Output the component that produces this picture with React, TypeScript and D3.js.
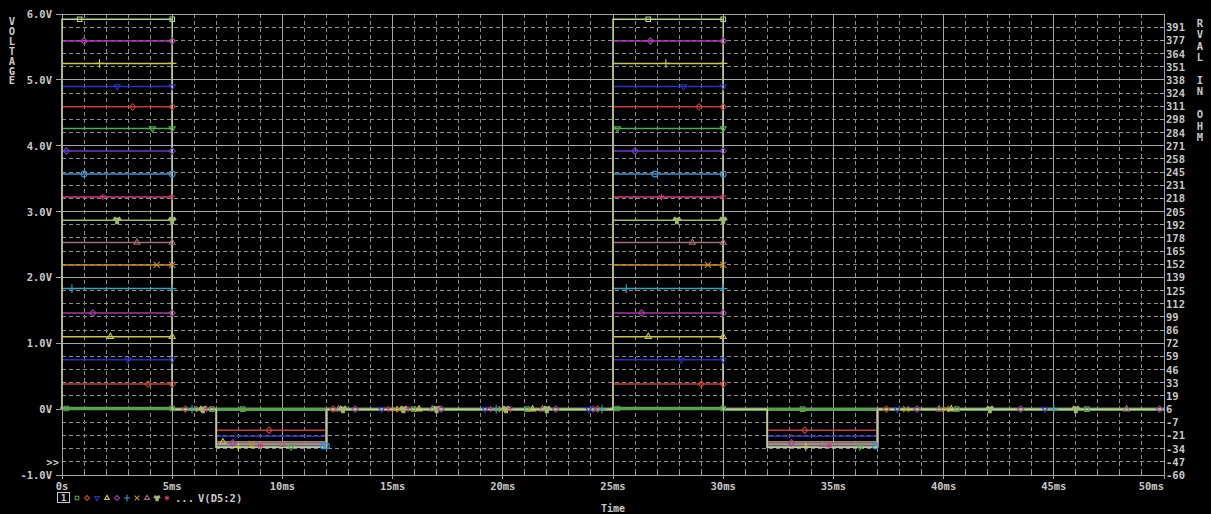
import React from "react";
import * as d3 from "d3";

const W = 1211;
const H = 514;
const M = { top: 14, right: 47, bottom: 39, left: 62 };

// parametric sweep traces, listed from the lowest to the highest pulse
const highLevels = [0.01, 0.38, 0.75, 1.1, 1.46, 1.83, 2.19, 2.53, 2.87, 3.22, 3.57, 3.92, 4.26, 4.59, 4.9, 5.25, 5.59, 5.92];
const lowLevels = [0, -0.32, -0.41, -0.5, -0.51, -0.52, -0.53, -0.54, -0.55, -0.555, -0.56, -0.565, -0.57, -0.572, -0.574, -0.576, -0.578, -0.58];
const traceColors = [
  "#5a9e50", "#c0403c", "#2c2cb8", "#c8c450", "#a03ca0", "#3ca0b4",
  "#c89028", "#a07078", "#a0b870", "#d03c78", "#3c90d0", "#6a3cc0",
  "#50a850", "#c03c3c", "#3030b8", "#c8c85a", "#a83cb0", "#b4d488",
];
const traceSymbols = [
  "square", "diamond", "triDown", "tri", "diamond", "plus", "times", "tri", "wye",
  "asterisk", "circle", "diamond", "triDown", "diamond", "triDown", "plus", "diamond", "square",
];

// pulse train: segments in ms
const segStart = [0, 5, 7, 12, 25, 30, 32, 37];
const segEnd = [5, 7, 12, 25, 30, 32, 37, 50];
const segKind = ["high", "zero", "low", "zero", "high", "zero", "low", "zero"];

// marker positions (ms)
const highMarksFirst = [0.2, 3.9, 3.0, 2.2, 1.4, 0.45, 4.3, 3.4, 2.5, 1.85, 1.0, 0.2, 4.1, 3.2, 2.5, 1.7, 1.0, 0.8];
const highMarksSecond = [25.2, 29.0, 28.1, 26.6, 26.3, 25.6, 29.3, 28.6, 27.9, 27.2, 26.9, 26.0, 25.2, 28.9, 28.2, 27.4, 26.7, 26.6];
const edgeMarks = [5, 30];
const zeroMarks = [
  [1, 5.6], [5, 5.9], [6, 6.2], [8, 6.4], [9, 6.55], [0, 6.8],
  [10, 12.0], [1, 12.3], [7, 12.55], [8, 12.75], [4, 13.3],
  [2, 14.5], [9, 14.8], [6, 15.1], [6, 15.3], [8, 15.5], [9, 15.7], [0, 15.95], [3, 16.2], [7, 16.8], [8, 17.0], [4, 17.2],
  [2, 19.2], [9, 19.45], [5, 19.7], [6, 19.95], [8, 20.15], [9, 20.35], [0, 21.1], [3, 21.35], [7, 21.8], [8, 22.0], [4, 22.4],
  [2, 23.9], [11, 24.1], [13, 24.3], [5, 24.5],
  [1, 37.4], [2, 37.9], [6, 38.3], [4, 38.8], [7, 39.8], [6, 40.1], [3, 40.35], [0, 40.6],
  [8, 42.1], [4, 43.5], [2, 44.6], [5, 45.0], [8, 46.0], [0, 46.5], [7, 48.3], [4, 49.8],
];
const lowMarks = [
  [0, 8.2], [1, 9.4], [3, 7.3], [4, 7.75], [15, 8.0], [6, 8.6], [9, 9.0], [7, 10.0], [12, 10.4], [10, 11.85],
  [0, 33.6], [1, 33.7], [4, 33.1], [15, 33.75], [7, 34.5], [9, 34.8], [12, 36.2], [10, 36.9],
];

// axes
const voltTicks = [-1, 0, 1, 2, 3, 4, 5, 6];
const voltLabels = ["-1.0V", "0V", "1.0V", "2.0V", "3.0V", "4.0V", "5.0V", "6.0V"];
const timeTicks = [0, 5, 10, 15, 20, 25, 30, 35, 40, 45, 50];
const timeLabels = ["0s", "5ms", "10ms", "15ms", "20ms", "25ms", "30ms", "35ms", "40ms", "45ms", "50ms"];
const ohmLabels = [
  "-60", "-47", "-34", "-21", "-7", "6", "19", "33", "46", "59", "72", "86", "99", "112", "125", "139", "152", "165",
  "178", "192", "205", "218", "231", "245", "258", "271", "284", "298", "311", "324", "338", "351", "364", "377", "391",
];
const leftTitle = "VOLTAGE";
const rightTitle = "RVAL IN OHM";
const legendLabel = "V(D5:2)";

const TXT = "#c8c8c8";
const FONT = "'DejaVu Sans Mono', 'Liberation Mono', monospace";

const symbolTypes: Record<string, any> = {
  square: d3.symbolSquare2,
  diamond: d3.symbolDiamond2,
  tri: d3.symbolTriangle2,
  triDown: d3.symbolTriangle2,
  plus: d3.symbolPlus,
  times: d3.symbolTimes,
  wye: d3.symbolWye,
  asterisk: d3.symbolAsterisk,
  circle: d3.symbolCircle,
};

function levelAt(k: number, t: number) {
  let i = segStart.findIndex((s, j) => t >= s && t <= segEnd[j]);
  if (i < 0) i = segStart.length - 1;
  const kind = segKind[i];
  return kind === "high" ? highLevels[k] : kind === "low" ? lowLevels[k] : 0;
}

function Marker({ k, x, y, size = 26 }: { k: number; x: number; y: number; size?: number }) {
  const name = traceSymbols[k];
  const path = d3.symbol().type(symbolTypes[name]).size(size)() || "";
  const rot = name === "triDown" ? " rotate(180)" : "";
  const filled = name === "wye";
  return (
    <path
      d={path}
      transform={`translate(${x},${y})${rot}`}
      fill={filled ? traceColors[k] : "none"}
      stroke={traceColors[k]}
      strokeWidth={1.1}
    />
  );
}

export default function App() {
  const x = d3.scaleLinear().domain([0, 50]).range([M.left, W - M.right]);
  const y = d3.scaleLinear().domain([-1, 6]).range([H - M.bottom, M.top]);
  const x0 = x.range()[0], x1 = x.range()[1];
  const y0 = y.range()[0], y1 = y.range()[1];

  const minorT = d3.range(0, 50, 1).filter((t) => t % 5 !== 0);
  const minorV = d3.range(-1, 5.99, 0.2).map((v) => Math.round(v * 10) / 10);
  const minorVDash = minorV.filter((v) => Math.abs(v - Math.round(v)) > 1e-6);

  const line = d3.line<[number, number]>().x((d) => x(d[0])).y((d) => y(d[1]));

  const tracePoints = highLevels.map((_, k) => {
    const pts: [number, number][] = [[0, 0]];
    segStart.forEach((s, i) => {
      const lv = segKind[i] === "high" ? highLevels[k] : segKind[i] === "low" ? lowLevels[k] : 0;
      pts.push([s, lv], [segEnd[i], lv]);
    });
    return pts;
  });

  const txtProps = { fontFamily: FONT, fontWeight: 700, fontSize: 10.5, fill: TXT };

  return (
    <svg width={W} height={H} style={{ position: "absolute", left: 0, top: 0, background: "#000" }}>
      <rect x={0} y={0} width={W} height={H} fill="#000" />

      {/* dotted minor grid */}
      <g stroke="#8c8c8c" strokeWidth={1} strokeDasharray="4,3" shapeRendering="crispEdges">
        {minorT.map((t) => (
          <line key={"vt" + t} x1={x(t)} x2={x(t)} y1={y1} y2={y0} />
        ))}
        {minorVDash.map((v) => (
          <line key={"hv" + v} x1={x0} x2={x1} y1={y(v)} y2={y(v)} />
        ))}
      </g>

      {/* major grid */}
      <g stroke="#a4a4a4" strokeWidth={1} shapeRendering="crispEdges">
        {timeTicks.map((t) => (
          <line key={"mt" + t} x1={x(t)} x2={x(t)} y1={y1} y2={y0} />
        ))}
        {voltTicks.map((v) => (
          <line key={"mv" + v} x1={x0} x2={x1} y1={y(v)} y2={y(v)} />
        ))}
        {/* left ticks */}
        {voltTicks.map((v) => (
          <line key={"lt" + v} x1={x0 - 6} x2={x0} y1={y(v)} y2={y(v)} />
        ))}
        {/* bottom ticks */}
        {timeTicks.map((t) => (
          <line key={"bt" + t} x1={x(t)} x2={x(t)} y1={y0} y2={y0 + 4} />
        ))}
        {minorT.map((t) => (
          <line key={"bm" + t} x1={x(t)} x2={x(t)} y1={y0 - 3} y2={y0} />
        ))}
        {/* right ticks */}
        {minorV.map((v) => (
          <line key={"rt" + v} x1={x1 - 4} x2={x1} y1={y(v)} y2={y(v)} />
        ))}
      </g>

      {/* traces */}
      <g fill="none" strokeLinejoin="miter">
        {tracePoints.map((pts, k) => (
          <path key={"tr" + k} d={line(pts) || ""} stroke={traceColors[k]} strokeWidth={k === 0 ? 3.5 : 1.5} />
        ))}
      </g>

      {/* markers */}
      <g>
        {highMarksFirst.map((t, k) => (
          <Marker key={"hf" + k} k={k} x={x(t)} y={y(highLevels[k])} />
        ))}
        {highMarksSecond.map((t, k) => (
          <Marker key={"hs" + k} k={k} x={x(t)} y={y(highLevels[k])} />
        ))}
        {highLevels.map((lv, k) =>
          edgeMarks.map((t) => <Marker key={"em" + k + "-" + t} k={k} x={x(t)} y={y(lv)} />)
        )}
        {zeroMarks.map(([k, t], i) => (
          <Marker key={"zm" + i} k={k} x={x(t)} y={y(levelAt(k, t))} />
        ))}
        {lowMarks.map(([k, t], i) => (
          <Marker key={"lm" + i} k={k} x={x(t)} y={y(levelAt(k, t))} />
        ))}
      </g>

      {/* left axis labels */}
      {voltTicks.map((v, i) => (
        <text key={"vl" + v} x={x0 - 10} y={y(v) + 4} textAnchor="end" {...txtProps}>
          {voltLabels[i]}
        </text>
      ))}
      <text x={x0 - 3} y={y(-0.8) + 4} textAnchor="end" {...txtProps}>
        {">>"}
      </text>

      {/* right axis labels */}
      {minorV.map((v, i) => (
        <text key={"ol" + i} x={x1 + 2} y={y(v) + 4} textAnchor="start" {...txtProps}>
          {ohmLabels[i]}
        </text>
      ))}

      {/* bottom labels */}
      {timeTicks.map((t, i) => (
        <text
          key={"tl" + t}
          x={x(t)}
          y={y0 + 15}
          textAnchor={i === timeTicks.length - 1 ? "end" : "middle"}
          {...txtProps}
        >
          {timeLabels[i]}
        </text>
      ))}
      <text x={(x0 + x1) / 2} y={H - 2.5} textAnchor="middle" {...txtProps} fontSize={10}>
        Time
      </text>

      {/* vertical titles */}
      {leftTitle.split("").map((c, i) => (
        <text key={"lt" + i} x={12} y={21 + i * 9.9 + 4} textAnchor="middle" {...txtProps}>
          {c}
        </text>
      ))}
      {rightTitle.split("").map((c, i) => (
        <text key={"rtt" + i} x={1200} y={23 + i * 11.4 + 4} textAnchor="middle" {...txtProps}>
          {c}
        </text>
      ))}

      {/* legend */}
      <rect x={57.5} y={492.5} width={12} height={10} fill="none" stroke={TXT} strokeWidth={1} />
      <text x={63.5} y={501} textAnchor="middle" {...txtProps} fontSize={9.5}>
        1
      </text>
      {traceColors.slice(0, 10).map((_, k) => (
        <Marker key={"lg" + k} k={k} x={77 + k * 10} y={498} size={16} />
      ))}
      <text x={175} y={502} {...txtProps}>
        ...
      </text>
      <text x={198} y={502} {...txtProps}>
        {legendLabel}
      </text>
    </svg>
  );
}
